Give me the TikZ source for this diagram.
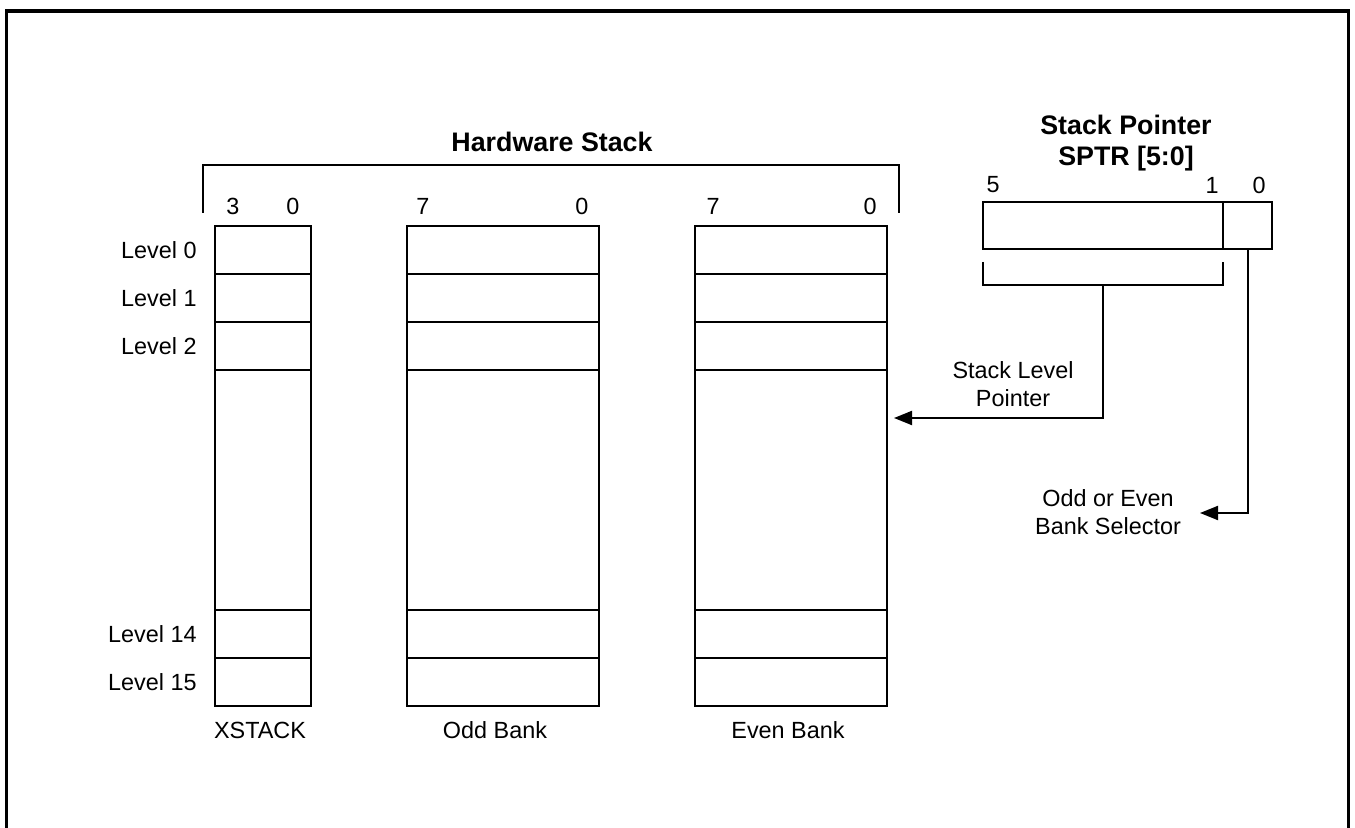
\documentclass[tikz,border=0pt]{standalone}
\usepackage{fontspec}
\setmainfont{Liberation Sans}
\usetikzlibrary{arrows.meta,calc}
\begin{document}
\begin{tikzpicture}[x=0.5pt,y=-0.5pt,
  box/.style={draw,line width=1pt,inner sep=0pt,outer sep=0pt,anchor=north west},
  lbl/.style={font=\fontsize{11.7}{14}\selectfont,inner sep=0pt},
  ttl/.style={font=\fontsize{13.4}{15.4}\selectfont\bfseries,inner sep=0pt,align=center},
  ln/.style={line width=1pt},
  brk/.style={line width=0.8pt},
  arr/.style={line width=1pt,-{Triangle[length=9pt,width=7pt]}}]
\useasboundingbox (0,0) rectangle (1355,828);
\clip (0,0) rectangle (1355,828);
% frame
\draw[line width=1.65pt] (6.7,845) -- (6.7,11) -- (1348.5,11) -- (1348.5,845);

% stack columns
\node[box,minimum width=48pt,minimum height=240pt] (xs) at (215,226) {};
\node[box,minimum width=96pt,minimum height=240pt] (odd) at (407,226) {};
\node[box,minimum width=96pt,minimum height=240pt] (even) at (695,226) {};
\foreach \c in {xs,odd,even}{
  \foreach \y in {274,322,370,610,658}{
    \draw[ln] (\c.west |- 0,\y) -- (\c.east |- 0,\y);
  }
}

% hardware stack bracket and title
\node[ttl] (hw) at (552,142) {Hardware Stack};
\draw[brk] (203,213) -- (203,165) -- (899,165) -- (899,213);

% bit numbers
\node[lbl] (x3) at (233,206) {3};
\node[lbl] (x0) at (293,206) {0};
\node[lbl] (o7) at (423,206) {7};
\node[lbl] (o0) at (582,206) {0};
\node[lbl] (e7) at (713,206) {7};
\node[lbl] (e0) at (870,206) {0};

% level labels
\node[lbl,anchor=east] (l0) at (197,250) {Level 0};
\node[lbl,anchor=east] (l1) at (197,298) {Level 1};
\node[lbl,anchor=east] (l2) at (197,346) {Level 2};
\node[lbl,anchor=east] (l14) at (197,634) {Level 14};
\node[lbl,anchor=east] (l15) at (197,682) {Level 15};

% column names
\node[lbl] (nx) at (260,730) {XSTACK};
\node[lbl] (no) at (495,730) {Odd Bank};
\node[lbl] (ne) at (788,730) {Even Bank};

% stack pointer
\node[ttl] (spt) at (1126,143) {Stack Pointer\\SPTR [5:0]};
\node[lbl] (s5) at (993,185) {5};
\node[lbl] (s1) at (1212,185) {1};
\node[lbl] (s0) at (1259,185) {0};
\node[box,minimum width=120pt,minimum height=23.5pt] (sp) at (983,202) {};
\node[box,minimum width=24.5pt,minimum height=23.5pt] (bit0) at (1223,202) {};
\draw[brk] (983,262) -- (983,285) -- (1223,285) -- (1223,262);
\coordinate (stem) at (1103,285);

% arrows
\coordinate (tip1) at ($(even.east |- 0,418)+(7,0)$);
\draw[arr] (stem) |- (tip1);
\coordinate (tip2) at (1200,513);
\draw[arr] (bit0.south) |- (tip2);

\node[lbl,align=center] (slp) at (1013,384) {Stack Level\\Pointer};
\node[lbl,align=center] (obs) at (1108,512) {Odd or Even\\Bank Selector};
\end{tikzpicture}
\end{document}
